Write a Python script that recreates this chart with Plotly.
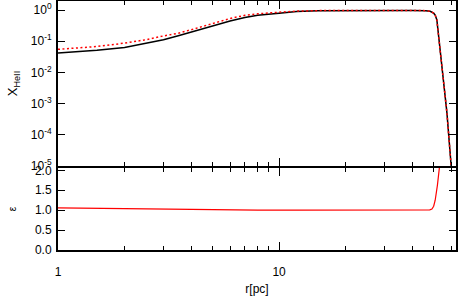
import plotly.graph_objects as go

# top panel data (r in pc)
r_top = [1, 1.5, 2, 2.5, 3, 3.5, 4, 5, 6, 7, 8, 10, 12, 15, 20, 30, 40, 46, 48.2, 50,
         50.8, 51.7, 53, 54.5, 56, 57.4, 60, 61.5]
x_heii = [0.0417, 0.0513, 0.0631, 0.0851, 0.112, 0.151, 0.2, 0.316, 0.447, 0.575, 0.676,
          0.794, 0.902, 0.955, 0.973, 0.977, 0.973, 0.955, 0.912, 0.794,
          0.692, 0.479, 0.1, 0.0204, 0.0025, 0.000513, 0.00001, 0.000002]
x_heii_ref = [0.055, 0.0676, 0.087, 0.112, 0.148, 0.18, 0.234, 0.372, 0.537, 0.676, 0.759,
              0.851, 0.923, 0.959, 0.973, 0.977, 0.973, 0.955, 0.912, 0.794,
              0.692, 0.479, 0.1, 0.0204, 0.0025, 0.000513, 0.00001, 0.000002]

# bottom panel
r_eps = [1, 2, 3, 5, 8, 12, 20, 30, 40, 45, 48, 49.1, 50, 50.8, 51.5, 52, 53.1, 54]
eps = [1.06, 1.04, 1.02, 1.005, 1.0, 1.0, 1.0, 1.0, 1.0, 1.0, 1.01, 1.03, 1.1, 1.25,
       1.45, 1.63, 2.08, 2.5]

ytick_vals = [1e-5, 1e-4, 1e-3, 1e-2, 1e-1, 1]
ytick_text = ["10<sup>-5</sup>", "10<sup>-4</sup>", "10<sup>-3</sup>", "10<sup>-2</sup>",
              "10<sup>-1</sup>", "10<sup>0</sup>"]
eps_ticks = [0.0, 0.5, 1.0, 1.5, 2.0]
eps_text = ["0.0", "0.5", "1.0", "1.5", "2.0"]
x_major = [1, 10]
x_minor = [2, 3, 4, 5, 6, 7, 8, 9, 20, 30, 40, 50, 60]

FONT = "Liberation Sans, Arial, Helvetica, sans-serif"

fig = go.Figure()
fig.add_trace(go.Scatter(x=r_top, y=x_heii, mode="lines", line=dict(color="black", width=1.5),
                         xaxis="x2", yaxis="y2", showlegend=False))
fig.add_trace(go.Scatter(x=r_top, y=x_heii_ref, mode="lines",
                         line=dict(color="red", width=1.5, dash="2px,2.5px"),
                         xaxis="x2", yaxis="y2", showlegend=False))
fig.add_trace(go.Scatter(x=r_eps, y=eps, mode="lines", line=dict(color="red", width=1.2),
                         xaxis="x", yaxis="y", showlegend=False))

common_x = dict(type="log", range=[0, 1.8], showgrid=False, zeroline=False,
                showline=True, linecolor="black", linewidth=2, mirror="allticks",
                ticks="inside", ticklen=8, tickwidth=1, tickcolor="black",
                tickmode="array", tickvals=x_major, automargin=False,
                minor=dict(ticks="inside", ticklen=4, tickwidth=1, tickcolor="black",
                           tickmode="array", tickvals=x_minor, showgrid=False))

fig.update_layout(
    width=458, height=302,
    margin=dict(l=58, r=2, t=1, b=52, autoexpand=False),
    paper_bgcolor="white", plot_bgcolor="white",
    font=dict(family=FONT, size=12, color="black"),
    xaxis=dict(**common_x, domain=[0, 1], anchor="y",
               ticktext=["1", "10"], ticklabelstandoff=10,
               title=dict(text="r[pc]", standoff=6, font=dict(size=12))),
    xaxis2=dict(**common_x, domain=[0, 1], anchor="y2", showticklabels=False, matches="x"),
    yaxis=dict(domain=[0, 0.3293], anchor="x", range=[0, 2.06], showgrid=False,
               zeroline=False, showline=True, linecolor="black", linewidth=2,
               mirror="allticks", ticks="inside", ticklen=7, tickwidth=1,
               tickcolor="black", tickmode="array", tickvals=eps_ticks, ticktext=eps_text,
               ticklabelstandoff=2, automargin=False,
               title=dict(text="ε", standoff=16, font=dict(size=10))),
    yaxis2=dict(domain=[0.3373, 1], anchor="x2", type="log", range=[-5, 0.29],
                showgrid=False, zeroline=False, showline=True, linecolor="black",
                linewidth=2, mirror="allticks", ticks="inside", ticklen=7, tickwidth=1,
                tickcolor="black", tickmode="array", tickvals=ytick_vals,
                ticktext=ytick_text, ticklabelstandoff=2, automargin=False,
                title=dict(text="X<sub>HeII</sub>", standoff=10, font=dict(size=13))),
)

fig.write_html("out.html", config={"displayModeBar": False},
               post_script="document.body.style.margin='0';document.body.style.padding='0';")
